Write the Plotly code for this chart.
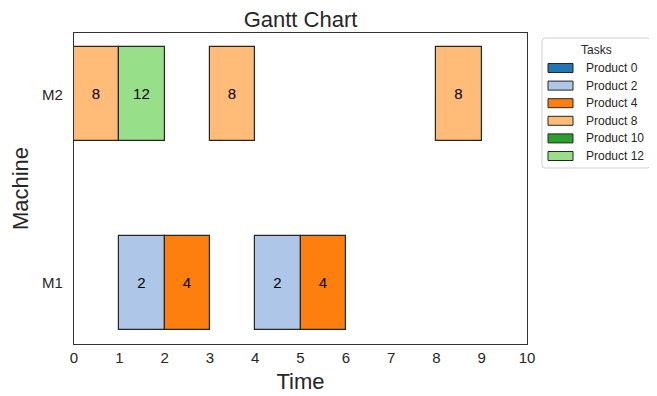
import plotly.graph_objects as go

# ---- data ----
machines = ["M1", "M2"]
task_machine = ["M2", "M2", "M2", "M2", "M1", "M1", "M1", "M1"]
task_start = [0, 1, 3, 8, 1, 2, 4, 5]
task_duration = [1, 1, 1, 1, 1, 1, 1, 1]
task_product = [8, 12, 8, 8, 2, 4, 2, 4]

legend_products = [0, 2, 4, 8, 10, 12]
legend_colors = ["#1f77b4", "#aec7e8", "#ff7f0e", "#ffbb78", "#2ca02c", "#98df8a"]
x_ticks = list(range(0, 11))

color_map = dict(zip(legend_products, legend_colors))
FONT = "Liberation Sans, Arial, sans-serif"
TXT = "#262626"

# the page body adds an 8px offset; size the figure so it fits the window
OFF = 8
W, H = 657 - OFF, 396 - OFF
L, R, T, B = 74 - OFF, 130, 33 - OFF, 52
pw, ph = W - L - R, H - T - B
PLOT_LEFT_PAGE = 74
PLOT_BOTTOM_PAGE = 344

fig = go.Figure()
fig.add_trace(go.Bar(
    orientation="h",
    y=[machines.index(m) for m in task_machine],
    base=task_start,
    x=task_duration,
    width=0.5,
    marker=dict(color=[color_map[p] for p in task_product],
                line=dict(color="#262626", width=1.2)),
    text=[str(p) for p in task_product],
    textposition="inside",
    insidetextanchor="middle",
    textangle=0,
    textfont=dict(family=FONT, size=15, color="black"),
    showlegend=False,
    hoverinfo="skip",
))

# custom legend (matplotlib style patches), positions given in page pixels
def px2x(px):
    return (px - PLOT_LEFT_PAGE) / pw

def py2y(py):
    return (PLOT_BOTTOM_PAGE - py) / ph

def rounded_box(x0, y0, x1, y1, r):
    # page pixel coords -> paper path with rounded corners
    pts = []
    def P(x, y):
        return f"{px2x(x):.5f},{py2y(y):.5f}"
    return (f"M {P(x0 + r, y0)} L {P(x1 - r, y0)} Q {P(x1, y0)} {P(x1, y0 + r)} "
            f"L {P(x1, y1 - r)} Q {P(x1, y1)} {P(x1 - r, y1)} "
            f"L {P(x0 + r, y1)} Q {P(x0, y1)} {P(x0, y1 - r)} "
            f"L {P(x0, y0 + r)} Q {P(x0, y0)} {P(x0 + r, y0)} Z")

shapes = []
annotations = []
shapes.append(dict(type="path", xref="paper", yref="paper",
                   path=rounded_box(542, 38, 650, 168, 3),
                   line=dict(color="#d0d0d0", width=1), fillcolor="white", layer="above"))
annotations.append(dict(xref="paper", yref="paper", x=px2x(596), y=py2y(50),
                        text="Tasks", showarrow=False, xanchor="center", yanchor="middle",
                        font=dict(family=FONT, size=12, color=TXT)))
for i, (p, c) in enumerate(zip(legend_products, legend_colors)):
    yc = 68 + i * 17.6
    shapes.append(dict(type="rect", xref="paper", yref="paper",
                       x0=px2x(548), x1=px2x(573), y0=py2y(yc + 4.5), y1=py2y(yc - 4.5),
                       line=dict(color="#262626", width=1), fillcolor=c, layer="above"))
    annotations.append(dict(xref="paper", yref="paper", x=px2x(584), y=py2y(yc),
                            text=f"Product {p}", showarrow=False, xanchor="left", yanchor="middle",
                            font=dict(family=FONT, size=12, color=TXT)))

fig.update_layout(
    width=W, height=H,
    margin=dict(l=L, r=R, t=T, b=B, autoexpand=False),
    paper_bgcolor="white", plot_bgcolor="white",
    font=dict(family=FONT, color=TXT),
    title=dict(text="Gantt Chart", x=0.5, xref="paper", xanchor="center",
               y=1 - (19 - OFF) / H, yanchor="middle",
               font=dict(family=FONT, size=22, color=TXT)),
    shapes=shapes, annotations=annotations,
    bargap=0,
)
fig.update_xaxes(range=[0, 10], tickvals=x_ticks, ticktext=[str(t) for t in x_ticks],
                 showgrid=False, zeroline=False, showline=True, mirror=True,
                 linecolor="#333333", linewidth=1.2, ticks="", ticklabelstandoff=0,
                 tickfont=dict(family=FONT, size=15, color=TXT),
                 title=dict(text="Time", standoff=8, font=dict(family=FONT, size=22, color=TXT)),
                 automargin=False)
fig.update_yaxes(range=[-0.325, 1.325], tickvals=[0, 1], ticktext=machines,
                 showgrid=False, zeroline=False, showline=True, mirror=True,
                 linecolor="#333333", linewidth=1.2, ticks="", ticklabelstandoff=7,
                 tickfont=dict(family=FONT, size=15, color=TXT),
                 title=dict(text="Machine", standoff=12, font=dict(family=FONT, size=22, color=TXT)),
                 automargin=False)

fig.write_html("out.html")
